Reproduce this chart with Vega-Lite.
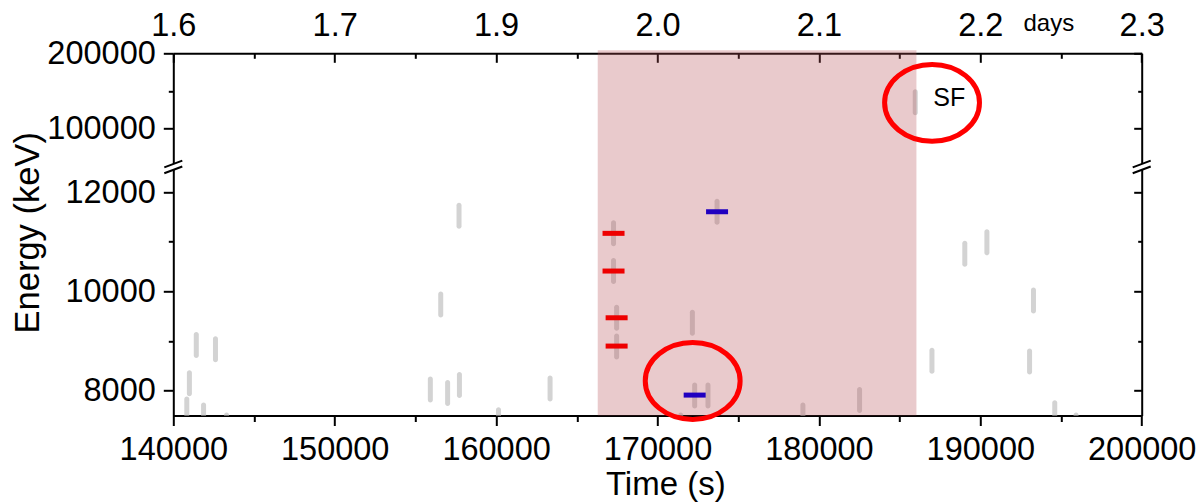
{
  "$schema": "https://vega.github.io/schema/vega-lite/v6.json",
  "width": 968.4,
  "height": 362.2,
  "autosize": {"type": "none"},
  "padding": {"left": 173.3, "top": 53.3, "right": 56.3, "bottom": 88.5},
  "background": "white",
  "config": {
    "view": {"stroke": null},
    "font": "Liberation Sans",
    "axis": {
      "labelFont": "Liberation Sans",
      "titleFont": "Liberation Sans",
      "domainColor": "black",
      "tickColor": "black",
      "labelColor": "black",
      "titleColor": "black",
      "domainWidth": 2,
      "tickWidth": 2,
      "grid": false,
      "labelFontSize": 32.5,
      "titleFontSize": 34.5,
      "titleFontWeight": "normal",
      "labelFlush": false,
      "labelOverlap": false,
      "labelBound": false
    }
  },
  "datasets": {
    "gray": [
      {"t": 140836, "E": 7619}, {"t": 140997, "E": 8147}, {"t": 141424, "E": 8918},
      {"t": 141876, "E": 7500}, {"t": 142613, "E": 8832}, {"t": 143300, "E": 7300},
      {"t": 155926, "E": 8022}, {"t": 156570, "E": 9734}, {"t": 156997, "E": 7951},
      {"t": 157703, "E": 11521}, {"t": 157728, "E": 8113}, {"t": 160149, "E": 7404},
      {"t": 163344, "E": 8046}, {"t": 167276, "E": 11168}, {"t": 167276, "E": 10409},
      {"t": 167467, "E": 9468}, {"t": 167467, "E": 8890}, {"t": 171437, "E": 7300},
      {"t": 172161, "E": 9367}, {"t": 172303, "E": 7901}, {"t": 173127, "E": 7901},
      {"t": 173690, "E": 11603}, {"t": 179009, "E": 7500}, {"t": 182520, "E": 7811},
      {"t": 187004, "E": 8600}, {"t": 189040, "E": 10755}, {"t": 190409, "E": 10989},
      {"t": 193053, "E": 8586}, {"t": 193294, "E": 9815}, {"t": 194613, "E": 7545},
      {"t": 195932, "E": 7300}, {"t": 185969, "E": 134800}
    ],
    "marks": [
      {"t": 167276, "E": 11168, "group": "A"},
      {"t": 167276, "E": 10409, "group": "A"},
      {"t": 167467, "E": 9468, "group": "A"},
      {"t": 167467, "E": 8898, "group": "A"},
      {"t": 173690, "E": 11603, "group": "B"},
      {"t": 172303, "E": 7911, "group": "B"}
    ],
    "circles": [{"t": 172180, "E": 8195}, {"t": 187010, "E": 134000}],
    "labels": [{"t": 188074, "E": 140300, "text": "SF"}],
    "shade": [{"start": 166297, "end": 186043}],
    "breaks": [{"t": 140000, "E": 15000}, {"t": 200000, "E": 15000}]
  },
  "layer": [
    {
      "data": {"name": "gray"},
      "mark": {"type": "tick", "orient": "vertical", "size": 26, "thickness": 5, "cornerRadius": 2.5, "color": "#d3d3d3", "opacity": 1, "clip": true},
      "encoding": {
        "x": {
          "field": "t", "type": "quantitative",
          "scale": {"domain": [140000, 200000], "nice": false, "zero": false},
          "axis": {
            "orient": "bottom",
            "values": [140000, 145000, 150000, 155000, 160000, 165000, 170000, 175000, 180000, 185000, 190000, 195000, 200000],
            "labelExpr": "datum.value % 10000 == 0 ? format(datum.value, 'd') : ''",
            "tickSize": {"condition": {"test": "datum.value % 10000 != 0", "value": 6}, "value": 10},
            "labelPadding": 8,
            "labelBaseline": "top",
            "title": "Time (s)",
            "titleFontSize": 33,
            "titleX": 492,
            "titleY": 78.5,
            "titleBaseline": "alphabetic",
            "titleAlign": "center"
          }
        },
        "y": {
          "field": "E", "type": "quantitative",
          "scale": {"domain": [7500, 12500, 55000, 200000], "range": [362.2, 113.9, 108.75, 0], "nice": false, "zero": false},
          "axis": {
            "orient": "left",
            "values": [8000, 9000, 10000, 11000, 12000, 100000, 150000, 200000],
            "labelExpr": "indexof([9000, 11000, 150000], datum.value) >= 0 ? '' : format(datum.value, 'd')",
            "tickSize": {"condition": {"test": "indexof([9000, 11000, 150000], datum.value) >= 0", "value": 5}, "value": 10},
            "labelPadding": 8,
            "title": "Energy (keV)",
            "titleAngle": -90,
            "titleX": -135,
            "titleY": 179,
            "titleBaseline": "alphabetic",
            "titleAlign": "center"
          }
        }
      }
    },
    {
      "data": {"name": "shade"},
      "mark": {"type": "rect", "color": "#b64e55", "opacity": 0.3},
      "encoding": {
        "x": {"field": "start", "type": "quantitative", "scale": {"domain": [140000, 200000], "nice": false, "zero": false}, "axis": null},
        "x2": {"field": "end"},
        "y": {"datum": 204000, "type": "quantitative", "scale": {"domain": [7500, 12500, 55000, 200000], "range": [362.2, 113.9, 108.75, 0], "nice": false, "zero": false}, "axis": null},
        "y2": {"datum": 7500}
      }
    },
    {
      "data": {"name": "marks"},
      "mark": {"type": "tick", "orient": "horizontal", "size": 22, "thickness": 5, "opacity": 1},
      "encoding": {
        "x": {
          "field": "t", "type": "quantitative",
          "scale": {"domain": [140000, 200000], "nice": false, "zero": false},
          "axis": {
            "orient": "top",
            "values": [140000, 145000, 150000, 155000, 160000, 165000, 170000, 175000, 180000, 185000, 190000, 195000, 200000],
            "labelExpr": "datum.value == 140000 ? '1.6' : datum.value == 150000 ? '1.7' : datum.value == 160000 ? '1.9' : datum.value == 170000 ? '2.0' : datum.value == 180000 ? '2.1' : datum.value == 190000 ? '2.2' : datum.value == 200000 ? '2.3' : ''",
            "tickSize": {"condition": {"test": "datum.value % 10000 != 0", "value": -5}, "value": -9},
            "labelPadding": 27,
            "labelBaseline": "alphabetic",
            "title": "days",
            "titleFontSize": 24,
            "titleX": 875,
            "titleY": -23,
            "titleBaseline": "alphabetic",
            "titleAlign": "center"
          }
        },
        "y": {
          "field": "E", "type": "quantitative",
          "scale": {"domain": [7500, 12500, 55000, 200000], "range": [362.2, 113.9, 108.75, 0], "nice": false, "zero": false},
          "axis": {
            "orient": "right",
            "values": [8000, 9000, 10000, 11000, 12000, 100000, 150000, 200000],
            "labels": false,
            "tickSize": {"condition": {"test": "indexof([9000, 11000, 150000], datum.value) >= 0", "value": -4}, "value": -8},
            "title": null
          }
        },
        "color": {"field": "group", "type": "nominal", "scale": {"domain": ["A", "B"], "range": ["#ee0000", "#2000c0"]}, "legend": null}
      }
    },
    {
      "data": {"name": "circles"},
      "mark": {"type": "point", "shape": "M-1,0C-1,-0.4474,-0.5523,-0.81,0,-0.81C0.5523,-0.81,1,-0.4474,1,0C1,0.4474,0.5523,0.81,0,0.81C-0.5523,0.81,-1,0.4474,-1,0Z", "size": 9000, "filled": false, "stroke": "#ff0000", "strokeWidth": 5, "opacity": 1},
      "encoding": {
        "x": {"field": "t", "type": "quantitative", "scale": {"domain": [140000, 200000], "nice": false, "zero": false}, "axis": null},
        "y": {"field": "E", "type": "quantitative", "scale": {"domain": [7500, 12500, 55000, 200000], "range": [362.2, 113.9, 108.75, 0], "nice": false, "zero": false}, "axis": null}
      }
    },
    {
      "data": {"name": "labels"},
      "mark": {"type": "text", "font": "Liberation Sans", "fontSize": 25, "align": "center", "baseline": "middle", "color": "black"},
      "encoding": {
        "x": {"field": "t", "type": "quantitative", "scale": {"domain": [140000, 200000], "nice": false, "zero": false}, "axis": null},
        "y": {"field": "E", "type": "quantitative", "scale": {"domain": [7500, 12500, 55000, 200000], "range": [362.2, 113.9, 108.75, 0], "nice": false, "zero": false}, "axis": null},
        "text": {"field": "text"}
      }
    },
    {
      "data": {"name": "breaks"},
      "mark": {"type": "point", "shape": "M-1,0.05L1,-0.7L1,-0.05L-1,0.7Z", "size": 324, "filled": true, "fill": "white", "strokeWidth": 0, "opacity": 1},
      "encoding": {
        "x": {"field": "t", "type": "quantitative", "scale": {"domain": [140000, 200000], "nice": false, "zero": false}, "axis": null},
        "y": {"field": "E", "type": "quantitative", "scale": {"domain": [7500, 12500, 55000, 200000], "range": [362.2, 113.9, 108.75, 0], "nice": false, "zero": false}, "axis": null}
      }
    },
    {
      "data": {"name": "breaks"},
      "mark": {"type": "point", "shape": "M-1,0.05L1,-0.7M-1,0.7L1,-0.05", "size": 324, "filled": false, "stroke": "black", "strokeWidth": 2, "opacity": 1},
      "encoding": {
        "x": {"field": "t", "type": "quantitative", "scale": {"domain": [140000, 200000], "nice": false, "zero": false}, "axis": null},
        "y": {"field": "E", "type": "quantitative", "scale": {"domain": [7500, 12500, 55000, 200000], "range": [362.2, 113.9, 108.75, 0], "nice": false, "zero": false}, "axis": null}
      }
    }
  ],
  "resolve": {"axis": {"x": "independent", "y": "independent"}}
}
